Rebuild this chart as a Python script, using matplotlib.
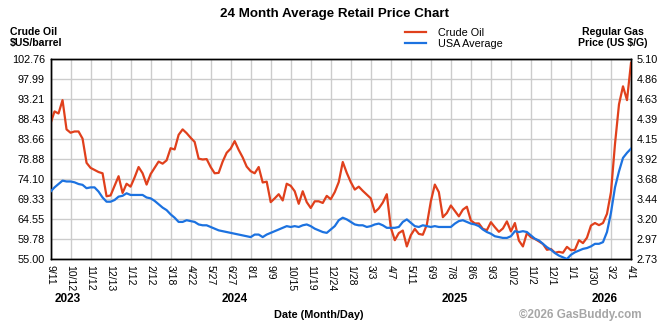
import numpy as np
import matplotlib
matplotlib.use("Agg")
import matplotlib.pyplot as plt

plt.rcParams['font.family'] = ['Liberation Sans', 'DejaVu Sans']

# tick labels along the bottom (evenly spaced on the chart)
date_labels = ['9/11', '10/12', '11/12', '12/13', '1/12', '2/12', '3/18', '4/22',
               '5/27', '6/27', '8/1', '9/9', '10/15', '11/19', '12/24', '1/28',
               '3/3', '4/7', '5/11', '6/9', '7/8', '8/6', '9/3', '10/2', '11/2',
               '12/1', '1/1', '1/30', '3/2', '4/1']
years = ['2023', '2024', '2025', '2026']
year_pos = [0.85, 9.2, 20.2, 27.7]

# left axis: crude oil ($US/barrel), 5 samples per tick step
crude = [87.4, 90.3, 89.8, 93.0, 86.0, 85.2, 85.5, 85.5, 83.8, 78.0,
         76.8, 76.3, 75.8, 75.5, 70.0, 70.2, 72.5, 74.8, 70.8, 73.0,
         72.3, 74.5, 77.0, 75.5, 72.8, 75.3, 76.8, 78.3, 77.8, 78.6,
         81.5, 81.2, 84.7, 86.0, 85.1, 84.0, 83.0, 79.0, 78.8, 78.9,
         77.0, 75.5, 75.6, 78.3, 80.4, 81.4, 83.2, 81.1, 79.3, 77.1,
         76.0, 75.5, 77.0, 73.3, 73.5, 68.6, 69.5, 70.5, 69.0, 73.0,
         72.5, 71.2, 68.2, 71.2, 68.6, 67.2, 68.8, 68.8, 68.4, 70.1,
         69.3, 71.0, 73.4, 78.2, 75.6, 73.4, 71.6, 72.3, 71.3, 70.4,
         69.5, 66.2, 67.1, 68.5, 70.5, 62.5, 59.5, 61.2, 61.8, 58.0,
         60.7, 62.2, 61.0, 60.8, 63.2, 68.8, 72.8, 71.0, 65.0, 66.0,
         67.8, 66.5, 65.2, 66.8, 67.5, 64.2, 63.5, 63.5, 62.2, 61.9,
         63.8, 62.6, 61.5, 62.3, 64.0, 61.6, 63.6, 59.4, 58.0, 61.2,
         60.2, 59.8, 59.2, 58.6, 57.2, 57.4, 56.5, 56.7, 56.5, 57.9,
         57.1, 57.2, 59.5, 58.8, 60.1, 63.0, 63.6, 63.1, 63.6, 65.8,
         71.0, 82.5, 92.0, 96.3, 93.0, 101.9]

# right axis: USA average regular gas ($/G)
gas = [3.53, 3.58, 3.62, 3.66, 3.65, 3.65, 3.64, 3.62, 3.61, 3.57,
       3.58, 3.58, 3.53, 3.46, 3.41, 3.41, 3.43, 3.47, 3.48, 3.51,
       3.49, 3.49, 3.49, 3.49, 3.46, 3.45, 3.42, 3.38, 3.34, 3.31,
       3.26, 3.22, 3.17, 3.17, 3.19, 3.18, 3.17, 3.14, 3.13, 3.13,
       3.11, 3.09, 3.07, 3.06, 3.05, 3.04, 3.03, 3.02, 3.01, 3.00,
       2.99, 3.02, 3.02, 2.99, 3.02, 3.04, 3.06, 3.08, 3.10, 3.12,
       3.11, 3.12, 3.11, 3.13, 3.14, 3.12, 3.09, 3.07, 3.05, 3.04,
       3.08, 3.12, 3.19, 3.22, 3.20, 3.17, 3.14, 3.13, 3.13, 3.11,
       3.12, 3.14, 3.15, 3.13, 3.10, 3.10, 3.10, 3.11, 3.17, 3.20,
       3.16, 3.12, 3.11, 3.13, 3.12, 3.11, 3.12, 3.11, 3.11, 3.11,
       3.11, 3.15, 3.18, 3.19, 3.17, 3.15, 3.14, 3.12, 3.08, 3.05,
       3.03, 3.00, 2.99, 2.98, 2.98, 3.00, 3.06, 3.05, 3.06, 3.05,
       3.01, 2.97, 2.95, 2.91, 2.87, 2.84, 2.80, 2.77, 2.75, 2.73,
       2.78, 2.81, 2.83, 2.85, 2.86, 2.88, 2.91, 2.91, 2.93, 3.05,
       3.28, 3.58, 3.77, 3.93, 3.99, 4.04]

oil_ticks = ['55.00', '59.78', '64.55', '69.33', '74.10', '78.88',
             '83.66', '88.43', '93.21', '97.99', '102.76']
gas_ticks = ['2.73', '2.97', '3.20', '3.44', '3.68', '3.92',
             '4.15', '4.39', '4.63', '4.86', '5.10']

idx = np.arange(len(crude)) / 5

fig = plt.figure(figsize=(6.7, 3.25), dpi=100)
ax = fig.add_axes([0.0754, 0.2031, 0.8664, 0.6144])
ax2 = ax.twinx()

red = '#E0401C'
blue = '#1C72E0'
ax.plot(idx, crude, color=red, linewidth=1.6, label='Crude Oil', zorder=3)
ax2.plot(idx, gas, color=blue, linewidth=1.6, label='USA Average', zorder=3)

ax.set_xlim(0, len(date_labels) - 1)
ax.set_ylim(55, 102.76)
ax2.set_ylim(2.73, 5.10)

ax.set_xticks(np.arange(len(date_labels)))
ax.set_xticklabels(date_labels, rotation=270, fontsize=7.5, va='top', ha='center')
ax.set_yticks(np.linspace(55, 102.76, len(oil_ticks)))
ax.set_yticklabels(oil_ticks, fontsize=7.8)
ax2.set_yticks(np.linspace(2.73, 5.10, len(gas_ticks)))
ax2.set_yticklabels(gas_ticks, fontsize=7.8)

ax.tick_params(length=0, pad=4)
ax2.tick_params(length=0, pad=4)
ax.grid(True, color='#cccccc', linewidth=1)
ax.set_axisbelow(True)
for a in (ax, ax2):
    for s in a.spines.values():
        s.set_color('black')
        s.set_linewidth(1)

# year labels under the dates
for y, p in zip(years, year_pos):
    ax.text(p, -0.2, y, transform=ax.get_xaxis_transform(), ha='center',
            va='center', fontsize=8.5, fontweight='bold')

fig.text(0.5, 0.958, '24 Month Average Retail Price Chart', ha='center',
         va='center', fontsize=9.6, fontweight='bold')
fig.text(0.015, 0.885, 'Crude Oil\n$US/barrel', ha='left', va='center',
         fontsize=7.6, fontweight='bold', linespacing=1.15)
fig.text(0.915, 0.885, 'Regular Gas\nPrice (US $/G)', ha='center', va='center',
         fontsize=7.6, fontweight='bold', linespacing=1.15)
fig.text(0.475, 0.032, 'Date (Month/Day)', ha='center', va='center',
         fontsize=7.8, fontweight='bold')
fig.text(0.958, 0.032, '\u00a92026 GasBuddy.com', ha='right', va='center',
         fontsize=8.4, fontweight='bold', color='#a6a6a6')

h1, l1 = ax.get_legend_handles_labels()
h2, l2 = ax2.get_legend_handles_labels()
fig.legend(h1 + h2, l1 + l2, loc='upper left', bbox_to_anchor=(0.605, 0.915),
           frameon=False, fontsize=7.8, handlelength=1.9, handletextpad=1.1,
           labelspacing=0.15, borderpad=0, borderaxespad=0)

plt.savefig('out.png', dpi=100)
